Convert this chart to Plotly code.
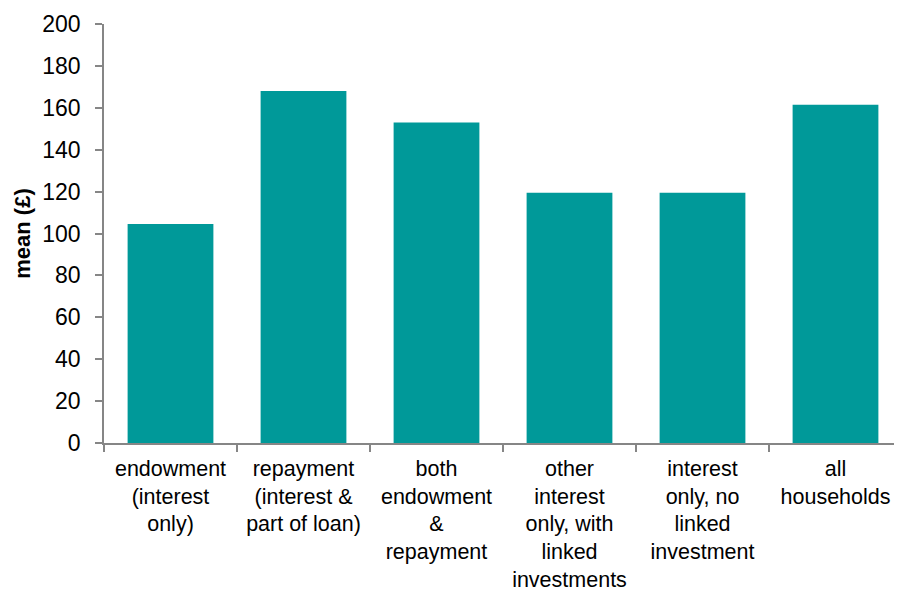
import plotly.graph_objects as go

categories = [
    "endowment<br>(interest<br>only)",
    "repayment<br>(interest &<br>part of loan)",
    "both<br>endowment<br>&<br>repayment",
    "other<br>interest<br>only, with<br>linked<br>investments",
    "interest<br>only, no<br>linked<br>investment",
    "all<br>households",
]
values = [104.5, 168, 153, 119.5, 119.5, 161.5]
y_ticks = [0, 20, 40, 60, 80, 100, 120, 140, 160, 180, 200]

fig = go.Figure(go.Bar(x=categories, y=values, marker=dict(color="#009999", line=dict(width=0))))

font_family = "Liberation Sans, Arial, sans-serif"
# page body has an 8px default margin, so the figure is offset by 8px
fig.update_layout(
    width=894, height=584,
    margin=dict(l=96, r=0, t=16, b=149),
    plot_bgcolor="white", paper_bgcolor="white",
    bargap=0.355,
    showlegend=False,
    font=dict(family=font_family, color="#000000", size=22),
)
fig.update_xaxes(
    showline=True, linecolor="#868686", linewidth=1.5,
    ticks="outside", tickson="boundaries", ticklen=7, tickcolor="#868686", tickwidth=1.5,
    tickfont=dict(size=21.5, family=font_family), tickangle=0,
    ticklabelstandoff=5, automargin=False,
    showgrid=False,
)
fig.update_yaxes(
    range=[0, 200], tickvals=y_ticks, ticktext=[str(v) for v in y_ticks],
    showline=True, linecolor="#868686", linewidth=1.5,
    ticks="outside", ticklen=7, tickcolor="#868686", tickwidth=1.5,
    tickfont=dict(size=23, family=font_family),
    ticklabelstandoff=10, automargin=False,
    showgrid=False, zeroline=False,
    title=dict(text="<b>mean (£)</b>", font=dict(size=22, family=font_family), standoff=6),
)
fig.write_html("out.html")
